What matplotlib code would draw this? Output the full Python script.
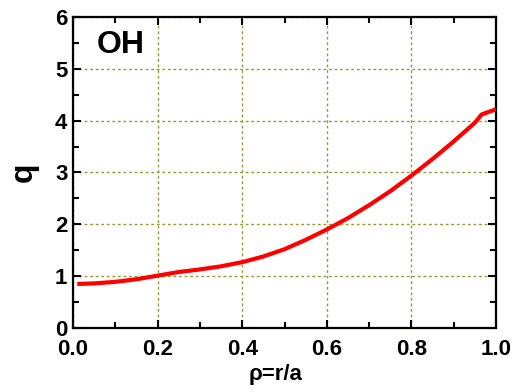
import numpy as np
import matplotlib
matplotlib.use("Agg")
import matplotlib.pyplot as plt
from matplotlib.ticker import MultipleLocator

# safety factor profile vs normalised radius
rho = [0.01, 0.05, 0.10, 0.15, 0.20, 0.25, 0.30, 0.35, 0.40, 0.45, 0.50,
       0.55, 0.60, 0.65, 0.70, 0.75, 0.80, 0.85, 0.90, 0.95, 0.966, 1.0]
q = [0.85, 0.86, 0.89, 0.94, 1.01, 1.08, 1.13, 1.19, 1.27, 1.38, 1.52,
     1.70, 1.90, 2.12, 2.37, 2.64, 2.94, 3.26, 3.60, 3.96, 4.12, 4.22]

plt.rcParams['font.family'] = ['Liberation Sans', 'DejaVu Sans']
plt.rcParams['font.weight'] = 'bold'

fig = plt.figure(figsize=(5.12, 3.92), dpi=100)
ax = fig.add_axes([0.1426, 0.1633, 0.8262, 0.7933])

ax.plot(rho, q, color='#ff0000', linewidth=3.0, solid_capstyle='butt', zorder=3)

ax.set_xlim(0, 1.0)
ax.set_ylim(0, 6)
ax.xaxis.set_major_locator(MultipleLocator(0.2))
ax.xaxis.set_minor_locator(MultipleLocator(0.1))
ax.yaxis.set_major_locator(MultipleLocator(1))
ax.yaxis.set_minor_locator(MultipleLocator(0.5))
ax.set_xticks([0.0, 0.2, 0.4, 0.6, 0.8, 1.0])
ax.set_xticklabels(['0.0', '0.2', '0.4', '0.6', '0.8', '1.0'])

ax.grid(True, which='major', color='#999933', linestyle=(0, (2, 2)), linewidth=1.0)
ax.tick_params(which='both', direction='in', top=True, right=True, width=1.5,
               labelsize=16)
ax.tick_params(which='major', length=6)
ax.tick_params(which='minor', length=4)
ax.tick_params(axis='x', which='major', pad=8)
ax.tick_params(axis='y', which='major', pad=4)
for s in ax.spines.values():
    s.set_linewidth(1.6)

for lab in ax.get_xticklabels() + ax.get_yticklabels():
    lab.set_fontweight('bold')

ax.set_xlabel('ρ=r/a', fontsize=16, fontweight='bold')
ax.xaxis.set_label_coords(0.48, -0.115)
ax.set_ylabel('q', fontsize=23, fontweight='bold', labelpad=12)
ax.text(0.055, 0.91, 'OH', transform=ax.transAxes, fontsize=23,
        fontweight='bold', va='center', ha='left')

fig.savefig('out.png', dpi=100)
